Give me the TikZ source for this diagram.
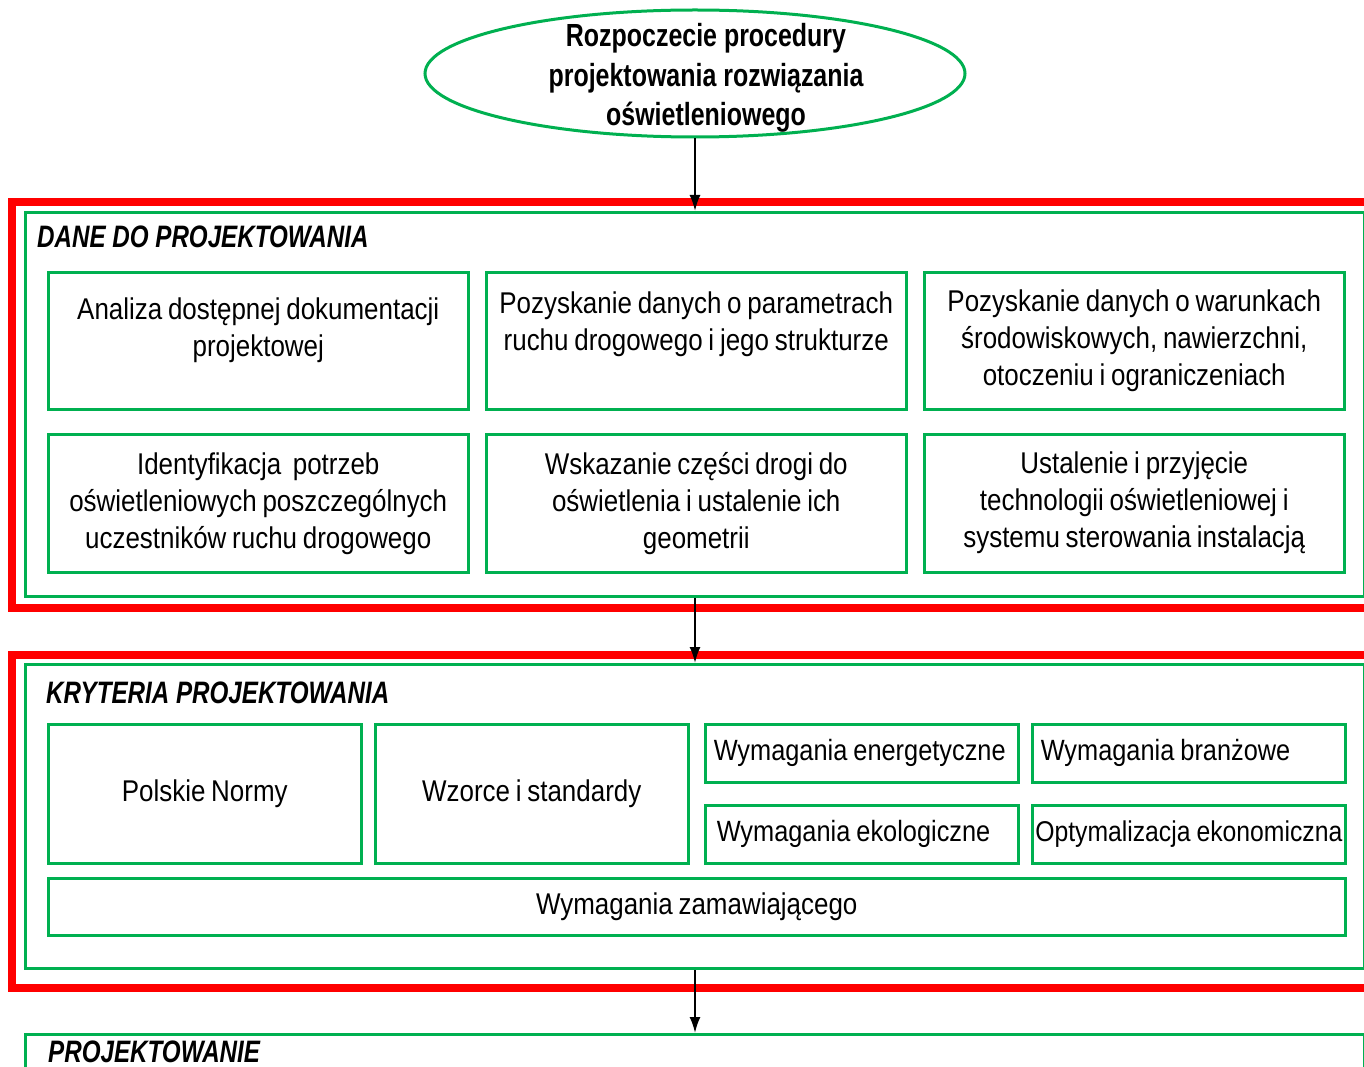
\documentclass[tikz,border=0pt]{standalone}
\usepackage{fontspec}
\setmainfont{Liberation Sans}[FakeStretch=0.865, WordSpace=0.8]
\newfontfamily\headfont{Liberation Sans}[FakeStretch=0.78]
\usetikzlibrary{shapes.geometric}
\usetikzlibrary{arrows.meta}
\definecolor{ramka}{RGB}{0,176,80}
\definecolor{czerwony}{RGB}{255,0,0}
\newcommand\tightsp{\spaceskip=0.21em\relax}
\tikzstyle{frame_red}=[draw=czerwony, line width=8pt]
\tikzstyle{frame_green}=[draw=ramka, line width=3pt, rectangle, anchor=north west, inner sep=0pt]
\tikzstyle{task_box}=[draw=ramka, line width=2.5pt, rectangle, anchor=north west, inner sep=0pt, align=center, font=\fontsize{30}{37}\selectfont]
\tikzstyle{small_box}=[task_box, inner xsep=8pt, text width=296pt, align=left, font=\fontsize{29.3}{37}\selectfont]
\tikzstyle{head_text}=[anchor=west, inner sep=0pt, font=\headfont\fontsize{31}{34}\selectfont\bfseries\itshape]
\tikzstyle{flow}=[line width=2pt, -{Latex[length=16pt,width=11pt]}]

\begin{document}
\begin{tikzpicture}[x=1pt, y=-1pt]
          \useasboundingbox (0,0) rectangle (1364,1067);
          \node[ellipse, draw=ramka, line width=3pt, inner sep=0pt, minimum width=540pt, minimum height=127pt] (start) at (695,73.5) {};
          \node[align=center, inner sep=0pt, font=\headfont\fontsize{32}{39.5}\selectfont\bfseries] (start_t) at (706,78) {Rozpoczecie procedury\\projektowania rozwiązania\\oświetleniowego};
          \draw[frame_red] (12,202) rectangle (1380,608);
          \node[frame_green, minimum width=1339pt, minimum height=384pt] (dane) at (24,211) {};
          \node[head_text] (dane_t) at (37,237) {DANE DO PROJEKTOWANIA};
          \node[task_box, minimum width=420pt, minimum height=137pt] (d1) at (47,271) {Analiza dostępnej dokumentacji\\projektowej\\[-20pt]\strut};
          \node[task_box, minimum width=420pt, minimum height=137pt] (d2) at (485,271) {Pozyskanie danych o parametrach\\ruchu drogowego i jego strukturze\\[-8pt]\strut};
          \node[task_box, minimum width=420pt, minimum height=137pt] (d3) at (923,271) {Pozyskanie danych o warunkach\\środowiskowych, nawierzchni,\\otoczeniu i ograniczeniach};
          \node[task_box, minimum width=420pt, minimum height=138pt] (d4) at (47,433) {Identyfikacja\ \ potrzeb\\oświetleniowych poszczególnych\\uczestników ruchu drogowego};
          \node[task_box, minimum width=420pt, minimum height=138pt] (d5) at (485,433) {Wskazanie części drogi do\\oświetlenia i ustalenie ich\\geometrii};
          \node[task_box, minimum width=420pt, minimum height=138pt] (d6) at (923,433) {Ustalenie i przyjęcie\\technologii oświetleniowej i\\systemu sterowania instalacją};
          \draw[frame_red] (12,655) rectangle (1380,988);
          \node[frame_green, minimum width=1339pt, minimum height=304pt] (kryteria) at (24,663) {};
          \node[head_text] (kryteria_t) at (46,693) {KRYTERIA PROJEKTOWANIA};
          \node[task_box, minimum width=313pt, minimum height=139pt] (k1) at (47,723) {Polskie Normy};
          \node[task_box, minimum width=313pt, minimum height=139pt] (k2) at (374,723) {Wzorce i standardy};
          \node[small_box, minimum width=313pt, minimum height=58pt] (k3) at (704,723) {\tightsp\mbox{Wymagania energetyczne}};
          \node[small_box, minimum width=313pt, minimum height=58pt] (k4) at (1031,723) {\tightsp\mbox{Wymagania branżowe}};
          \node[small_box, minimum width=313pt, minimum height=58pt, inner xsep=11pt, text width=290pt] (k5) at (704,804) {\tightsp\mbox{Wymagania ekologiczne}};
          \node[small_box, minimum width=313pt, minimum height=58pt, inner xsep=3pt, text width=307pt, font=\fontsize{28.6}{37}\selectfont] (k6) at (1031,804) {\tightsp\mbox{Optymalizacja ekonomiczna}};
          \node[task_box, minimum width=1297pt, minimum height=57pt] (k7) at (47,877) {Wymagania zamawiającego};
          \node[frame_green, minimum width=1339pt, minimum height=200pt] (projekt) at (24,1033) {};
          \node[head_text] (projekt_t) at (48,1052) {PROJEKTOWANIE};
          \draw[flow](start.south) -- (start.south |- dane.north);
          \draw[flow](dane.south) -- (kryteria.north);
          \draw[flow](kryteria.south) -- (projekt.north);
        \end{tikzpicture}
\end{document}
